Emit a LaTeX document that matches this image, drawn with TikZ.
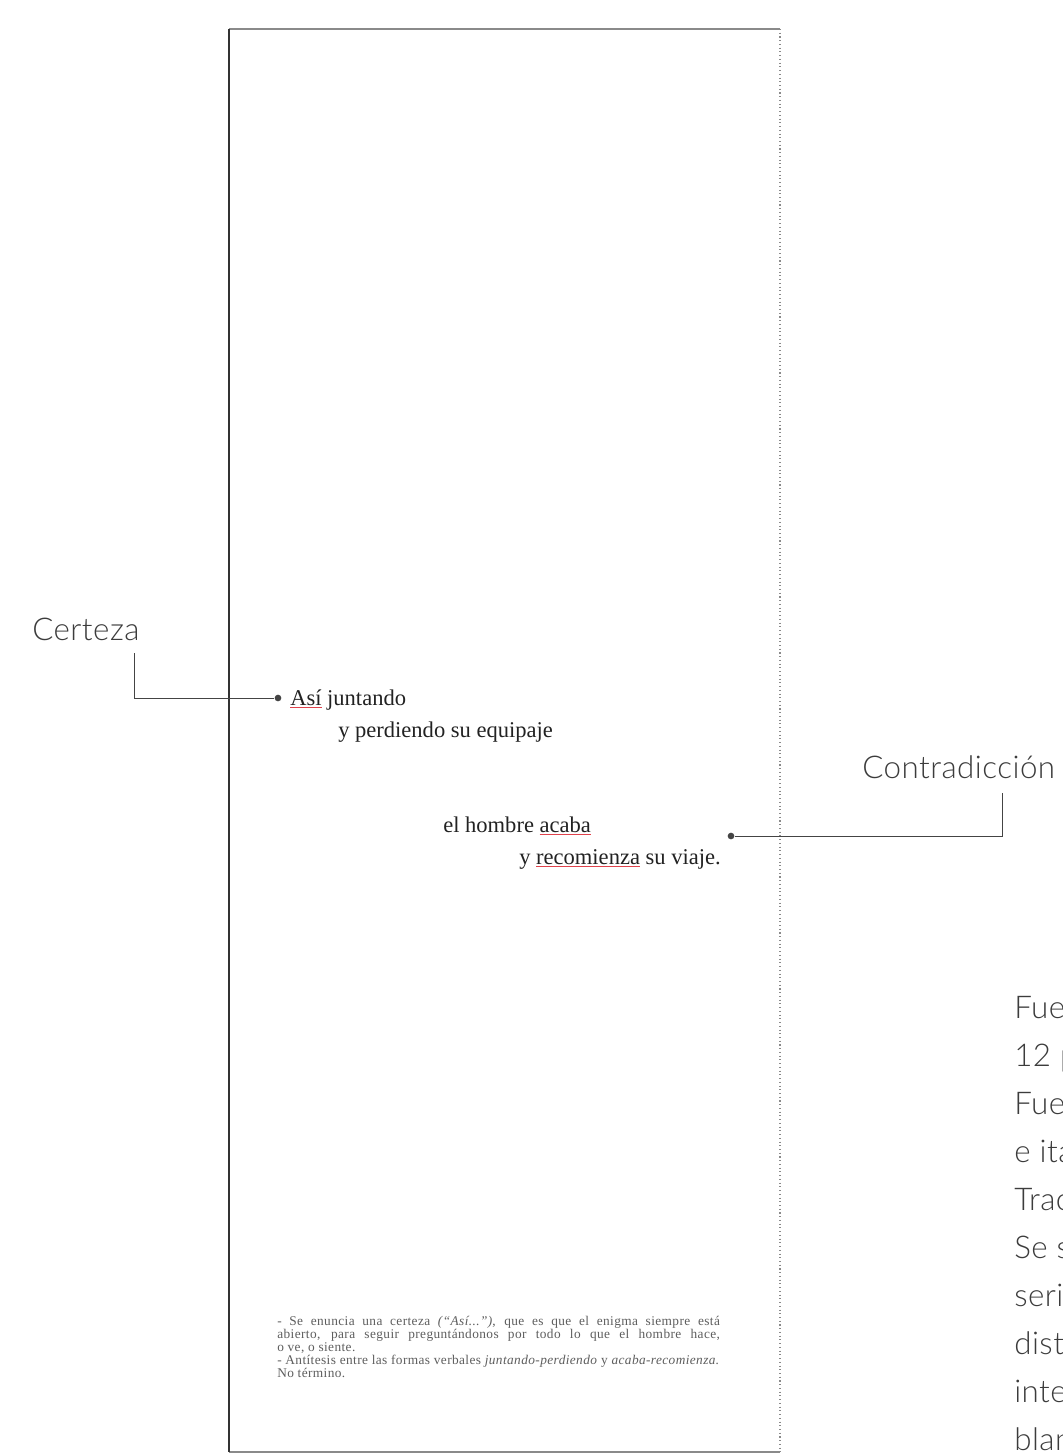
\documentclass[tikz,border=0pt]{standalone}
\usepackage{fontspec}
\setmainfont{Liberation Serif}
\newfontfamily\latolight{Lato Light}[LetterSpace=1.5]
\newfontfamily\notefont{Liberation Serif}[LetterSpace=3]
\definecolor{ulred}{HTML}{E0424C}
\definecolor{inkc}{HTML}{222222}
\definecolor{notec}{HTML}{5E5E5E}
\definecolor{labc}{HTML}{3C3C3C}
\definecolor{linec}{HTML}{444444}
\definecolor{boxc}{HTML}{8A8A8A}
\newlength\ulw
\newcommand\redul[1]{\settowidth\ulw{#1}\rlap{\textcolor{ulred}{\rule[-2.4pt]{\ulw}{0.8pt}}}#1}
\newlength\notew
\setlength\notew{332pt}
\begin{document}
\begin{tikzpicture}[x=0.75pt,y=-0.75pt,
  poem/.style={anchor=base west,inner sep=0pt,text=inkc,font=\fontsize{16.9}{20}\selectfont},
  lab/.style={anchor=base west,inner sep=0pt,text=labc,font=\latolight\fontsize{23.5}{27}\selectfont},
  side/.style={anchor=base west,inner sep=0pt,text=labc,font=\latolight\fontsize{23.5}{27}\selectfont},
  note/.style={anchor=north west,inner sep=0pt,text=notec,align=left,font=\notefont\fontsize{10}{9.8}\selectfont},
  dotnode/.style={circle,fill=linec,inner sep=0pt,minimum size=5pt},
  conn/.style={draw=linec,line width=0.75pt}]
\useasboundingbox (0,0) rectangle (1063,1453);
\clip (0,0) rectangle (1063,1453);
\fill[white] (0,0) rectangle (1063,1453);
% page frame
\coordinate (tl) at (229,29);
\coordinate (tr) at (780,29);
\coordinate (bl) at (229,1452);
\coordinate (br) at (780,1452);
\draw[boxc,line width=1.1pt] (tl) -- (tr);
\draw[boxc,line width=1.1pt] (bl) -- (br);
\draw[black!80,line width=1pt] (tl) -- (bl);
\draw[boxc,line width=0.8pt,dotted] (tr) -- (br);
% poem
\node[poem] (p1) at (290,705) {\redul{Así} juntando};
\node[poem] (p2) at (338,737) {y perdiendo su equipaje};
\node[poem] (p3) at (443,832) {el hombre \redul{acaba}};
\node[poem] (p4) at (519,864) {y \redul{recomienza} su viaje.};
% labels and connectors
\node[lab] (certeza) at (32,640) {Certeza};
\node[lab] (contra) at (862,778) {Contradicción};
\node[dotnode] (d1) at (278,698) {};
\node[dotnode] (d2) at (731,836) {};
\coordinate (c1) at (134,653);
\coordinate (c2) at (1002,793);
\draw[conn] (c1) |- (d1);
\draw[conn] (c2) |- (d2);
% footnote
\node[note] (foot) at (277,1316) {%
\makebox[\notew][s]{- Se enuncia una certeza \textit{(“Así...”)}, que es que el enigma siempre está}\\
\makebox[\notew][s]{abierto, para seguir preguntándonos por todo lo que el hombre hace,}\\
o ve, o siente.\\
- Antítesis entre las formas verbales \textit{juntando-perdiendo} y \textit{acaba-recomienza.}\\
No término.};
% side column (cut by the page edge)
\node[side] (s1) at (1014,1018) {Fuente: Garamond};
\node[side] (s2) at (1014,1066) {12 puntos};
\node[side] (s3) at (1014,1114) {Fuente: Lato};
\node[side] (s4) at (1014,1162) {e itálica};
\node[side] (s5) at (1014,1210) {Tracking};
\node[side] (s6) at (1014,1258) {Se subraya};
\node[side] (s7) at (1014,1306) {serif};
\node[side] (s8) at (1014,1354) {distinto};
\node[side] (s9) at (1014,1402) {interlineado};
\node[side] (s10) at (1014,1450) {blanco};
\end{tikzpicture}
\end{document}
